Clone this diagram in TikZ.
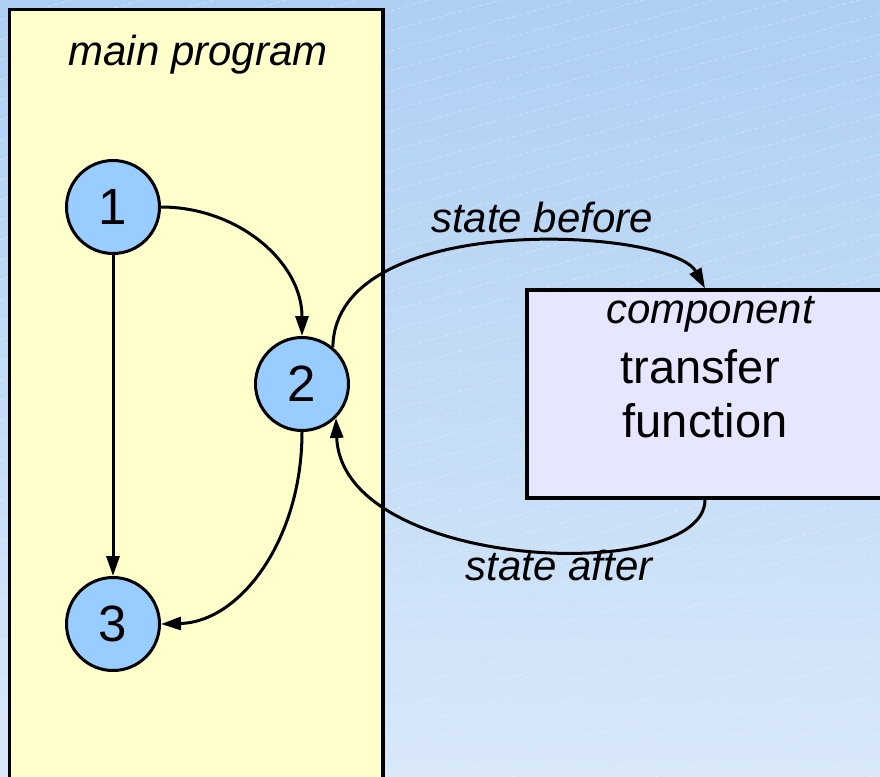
\documentclass[tikz,border=0pt]{standalone}
\usepackage{fontspec}
\setmainfont{Liberation Sans}
\usetikzlibrary{arrows.meta}
\definecolor{bgtop}{HTML}{AECFF4}
\definecolor{bgbot}{HTML}{D8E8F9}
\definecolor{progfill}{HTML}{FFFFCC}
\definecolor{statefill}{HTML}{99CCFF}
\definecolor{compfill}{HTML}{E6E6FF}
\tikzset{
  statenode/.style={circle, draw=black, line width=3pt, fill=statefill,
    minimum size=93pt, inner sep=0pt, font=\fontsize{51}{56}\selectfont},
  boxnode/.style={rectangle, draw=black, line width=3.4pt, inner sep=0pt},
  italabel/.style={inner sep=0pt, anchor=base, font=\fontsize{42}{48}\selectfont\itshape},
  plainlabel/.style={inner sep=0pt, anchor=base, font=\fontsize{47}{54}\selectfont},
  flow/.style={draw=black, line width=3pt, -{Triangle[length=20pt,width=13pt]}},
  hatch/.style={white, opacity=0.32, line width=0.8pt, dash pattern=on 4pt off 3pt}
}
\begin{document}
\begin{tikzpicture}[x=1pt, y=-1pt]
  \useasboundingbox (0,0) rectangle (880,776);
  \clip (0,0) rectangle (880,776);
  % background with faint diagonal hatching
  \shade[top color=bgtop, bottom color=bgbot] (0,0) rectangle (880,776);
  \foreach \k in {0,...,55}
    \draw[hatch] (0,{\k*20}) -- (880,{\k*20-246});

  % main program panel and component box
  \node[boxnode, fill=progfill, minimum width=373.5pt, minimum height=811pt] (main) at (196.25,415) {};
  \node[boxnode, fill=compfill, minimum width=356pt, minimum height=208pt] (comp) at (705,394) {};

  \node[italabel] (mainlbl) at (198,65) {main program};
  \node[italabel] (complbl) at (710,323) {component};
  \node[plainlabel] (tf1) at (700,383) {transfer};
  \node[plainlabel] (tf2) at (705,437) {function};

  % states of the main program
  \node[statenode] (n1) at (113,207) {1};
  \node[statenode] (n2) at (302,384) {2};
  \node[statenode] (n3) at (113,624) {3};

  % control flow inside the main program
  \path[flow] (n1.east) .. controls (238,207) and (302,262) .. (n2.north);
  \path[flow] (n1.south) -- (n3.north);
  \path[flow] (n2.south) .. controls (302,540) and (240,622) .. (n3.east);

  % hand-over to and from the component
  \path[flow] (n2.50) .. controls (335,208) and (672,228) .. (comp.north);
  \path[flow] (comp.south) .. controls (705,585) and (342,572) .. (n2.-45);

  \node[italabel] (before) at (542,232) {state before};
  \node[italabel] (after) at (559,580) {state after};
\end{tikzpicture}
\end{document}
